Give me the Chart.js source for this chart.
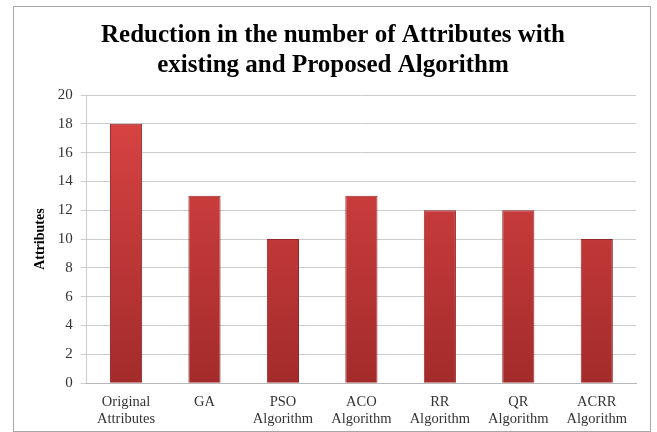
<!DOCTYPE html>
<html>
<head>
<meta charset="utf-8">
<script src="https://cdn.jsdelivr.net/npm/chart.js@4.4.1/dist/chart.umd.min.js"></script>
<style>
  body { margin: 0; background: #fff; }
  #box { position: absolute; left: 13px; top: 6px; width: 638px; height: 426px; border: 1px solid #a6a6a6; box-sizing: border-box; }
</style>
</head>
<body>
<div id="box"><canvas id="bar-attr"></canvas></div>
<script>
var categories = [['Original', 'Attributes'], 'GA', ['PSO', 'Algorithm'], ['ACO', 'Algorithm'],
                  ['RR', 'Algorithm'], ['QR', 'Algorithm'], ['ACRR', 'Algorithm']];
var attributes = [18, 13, 10, 13, 12, 12, 10];

var serif = '"Liberation Serif", "Times New Roman", serif';

// red cylinder-like fill, lighter at the top
function barFill(ctx) {
  var area = ctx.chart.chartArea;
  if (!area) return '#c03333';
  var g = ctx.chart.ctx.createLinearGradient(0, area.top, 0, area.bottom);
  g.addColorStop(0, '#dc4545');
  g.addColorStop(1, '#a42b2b');
  return g;
}

var barchart = document.getElementById('bar-attr');
var chart = new Chart(barchart, {
  type: 'bar',
  data: {
    labels: categories,
    datasets: [{
      label: 'Attributes',
      data: attributes,
      backgroundColor: barFill,
      borderColor: '#962626',
      borderWidth: 1,
      barPercentage: 0.82,
      categoryPercentage: 0.5
    }]
  },
  options: {
    responsive: true,
    maintainAspectRatio: false,
    animation: false,
    layout: { padding: { left: 16, right: 14, top: 0, bottom: 1 } },
    plugins: {
      legend: { display: false },
      tooltip: { enabled: false },
      title: {
        display: true,
        text: ['Reduction in the number of Attributes with', 'existing and Proposed Algorithm'],
        color: '#000',
        font: { family: serif, size: 25, weight: 'bold', lineHeight: 1.2 },
        padding: { top: 14, bottom: 14 }
      }
    },
    scales: {
      y: {
        min: 0,
        max: 20,
        ticks: { stepSize: 2, color: '#333', font: { family: serif, size: 15 }, padding: 8 },
        grid: { color: '#cccccc', tickLength: 6 },
        border: { color: '#cccccc' },
        title: { display: true, text: 'Attributes', color: '#000', font: { family: serif, size: 14, weight: 'bold' }, padding: { top: 2, bottom: 1 } }
      },
      x: {
        ticks: { color: '#333', font: { family: serif, size: 14.5 }, maxRotation: 0, autoSkip: false, padding: 2 },
        grid: { display: false },
        border: { color: '#b8b8b8' }
      }
    }
  }
});
</script>
</body>
</html>
